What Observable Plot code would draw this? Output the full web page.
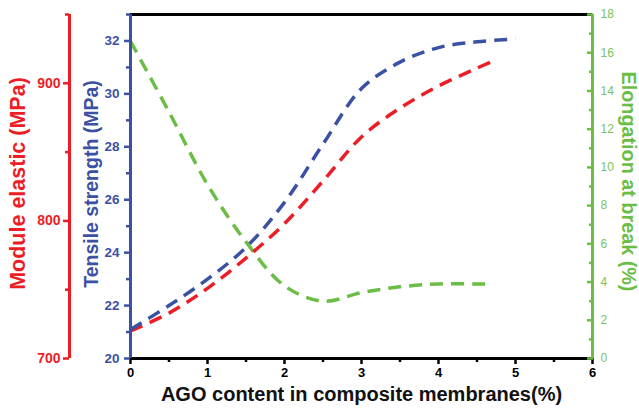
<!DOCTYPE html>
<html><head><meta charset="utf-8">
<script src="https://cdn.jsdelivr.net/npm/d3@7"></script>
<script src="https://cdn.jsdelivr.net/npm/@observablehq/plot@0.6"></script>
<style>body{margin:0;background:#fff;font-family:"Liberation Sans",Arial,sans-serif}</style>
</head><body><div id="chart"></div>
<script>
// AGO content (%) and measured series
const tensileX = [0, 0.5, 1, 1.5, 2, 2.5, 3, 3.5, 4, 4.5, 5];
const tensileStrength = [21.1, 22.0, 23.0, 24.2, 25.9, 28.1, 30.2, 31.2, 31.75, 31.97, 32.07];
const modulusX = [0, 0.5, 1, 1.5, 2, 2.5, 3, 3.5, 4, 4.5, 4.7];
const modulusElastic = [720, 733, 751, 773, 798, 829, 861, 882, 898, 911, 916];
const elongX = [0, 0.5, 1, 1.5, 2, 2.5, 3, 3.5, 4, 4.5, 4.7];
const elongation = [16.6, 12.9, 9.1, 6.1, 3.8, 3.0, 3.45, 3.75, 3.9, 3.9, 3.9];

const xTicks = [0, 1, 2, 3, 4, 5, 6];
const xMinorTicks = [0.5, 1.5, 2.5, 3.5, 4.5, 5.5];
const tensileTicks = [20, 22, 24, 26, 28, 30, 32];
const tensileMinor = [21, 23, 25, 27, 29, 31, 33];
const modulusTicks = [700, 800, 900];
const modulusMinor = [750, 850, 950];
const elongTicks = [0, 2, 4, 6, 8, 10, 12, 14, 16, 18];
const elongMinor = [1, 3, 5, 7, 9, 11, 13, 15, 17];

const tensileDomain = [20, 33];
const modulusDomain = [700, 950];
const elongDomain = [0, 18];

const xTitle = "AGO content in composite membranes(%)";
const modulusTitle = "Module elastic (MPa)";
const tensileTitle = "Tensile strength (MPa)";
const elongTitle = "Elongation at break (%)";

const BLUE = "#3b51a3", RED = "#ec1d25", GREEN = "#6bbd45", GREEN_TXT = "#7cc35b";

// map secondary axes into the primary (tensile) coordinate
const lin = (d0) => v => tensileDomain[0] + (v - d0[0]) / (d0[1] - d0[0]) * (tensileDomain[1] - tensileDomain[0]);
const inv = (d0) => y => d0[0] + (y - tensileDomain[0]) / (tensileDomain[1] - tensileDomain[0]) * (d0[1] - d0[0]);
const r2b = lin(modulusDomain), b2r = inv(modulusDomain);
const g2b = lin(elongDomain), b2g = inv(elongDomain);

const tensileData = tensileX.map((x, i) => ({x, y: tensileStrength[i]}));
const modulusData = modulusX.map((x, i) => ({x, y: r2b(modulusElastic[i])}));
const elongData = elongX.map((x, i) => ({x, y: g2b(elongation[i])}));

const dash = {strokeWidth: 3.5, strokeDasharray: "13,8", curve: "catmull-rom", strokeLinecap: "butt"};

const chart = Plot.plot({
  width: 639, height: 412,
  marginLeft: 130, marginRight: 47, marginTop: 14, marginBottom: 54,
  style: {fontFamily: "Liberation Sans, Arial, sans-serif", background: "#fff"},
  x: {domain: [0, 6], axis: null},
  y: {domain: tensileDomain, axis: null},
  marks: [
    Plot.ruleY([tensileDomain[1]], {stroke: "#000", strokeWidth: 3}),
    Plot.ruleY([tensileDomain[0]], {stroke: "#000", strokeWidth: 3}),
    Plot.line(elongData, {x: "x", y: "y", stroke: GREEN, ...dash}),
    Plot.line(modulusData, {x: "x", y: "y", stroke: RED, ...dash}),
    Plot.line(tensileData, {x: "x", y: "y", stroke: BLUE, ...dash}),
    // x axis
    Plot.axisX({ticks: xTicks, tickSize: 6, tickPadding: 3, strokeWidth: 2.5, fontWeight: "bold", fontSize: 13, color: "#000", tickFormat: d => String(d), label: null}),
    Plot.axisX({ticks: xMinorTicks, tickSize: 4, strokeWidth: 2.5, tickFormat: () => "", color: "#000", label: null}),
    // tensile axis
    Plot.ruleX([0], {stroke: BLUE, strokeWidth: 3}),
    Plot.axisY({ticks: tensileTicks, anchor: "left", tickSize: 6, tickPadding: 5, strokeWidth: 2.5, fontWeight: "bold", fontSize: 13.5, color: BLUE, tickFormat: d => String(d), label: null}),
    Plot.axisY({ticks: tensileMinor, anchor: "left", tickSize: 4, strokeWidth: 2.5, tickFormat: () => "", color: BLUE, label: null}),
    // modulus axis
    Plot.ruleX([0], {stroke: RED, strokeWidth: 3, dx: -61}),
    Plot.axisY({ticks: modulusTicks.map(r2b), anchor: "left", dx: -61, tickSize: 6, tickPadding: 3, strokeWidth: 2.5, fontWeight: "bold", fontSize: 14, color: RED, tickFormat: d => String(Math.round(b2r(d))), label: null}),
    Plot.axisY({ticks: modulusMinor.map(r2b), anchor: "left", dx: -61, tickSize: 4, strokeWidth: 2.5, tickFormat: () => "", color: RED, label: null}),
    // elongation axis
    Plot.ruleX([6], {stroke: GREEN, strokeWidth: 3}),
    Plot.axisY({ticks: elongTicks.map(g2b), anchor: "right", tickSize: -6, tickPadding: 14, strokeWidth: 2.5, fontSize: 12, stroke: GREEN, fill: GREEN_TXT, tickFormat: d => String(Math.round(b2g(d))), label: null}),
    Plot.axisY({ticks: elongMinor.map(g2b), anchor: "right", tickSize: -4, strokeWidth: 2.5, tickFormat: () => "", stroke: GREEN, label: null}),
    // titles
    Plot.text([xTitle], {text: d => d, frameAnchor: "bottom", textAnchor: "middle", dy: 42, fontSize: 20, fontWeight: "bold", fill: "#111"}),
    Plot.text([modulusTitle], {text: d => d, frameAnchor: "left", textAnchor: "middle", dx: -112, dy: -3, rotate: -90, fontSize: 21.5, fontWeight: "bold", fill: RED}),
    Plot.text([tensileTitle], {text: d => d, frameAnchor: "left", textAnchor: "middle", dx: -39, dy: -2.5, rotate: -90, fontSize: 19.5, fontWeight: "bold", fill: BLUE}),
    Plot.text([elongTitle], {text: d => d, frameAnchor: "right", textAnchor: "middle", dx: 36, dy: -5, rotate: 90, fontSize: 19.8, fontWeight: "bold", fill: GREEN})
  ]
});
document.getElementById("chart").appendChild(chart);
</script>
</body></html>
